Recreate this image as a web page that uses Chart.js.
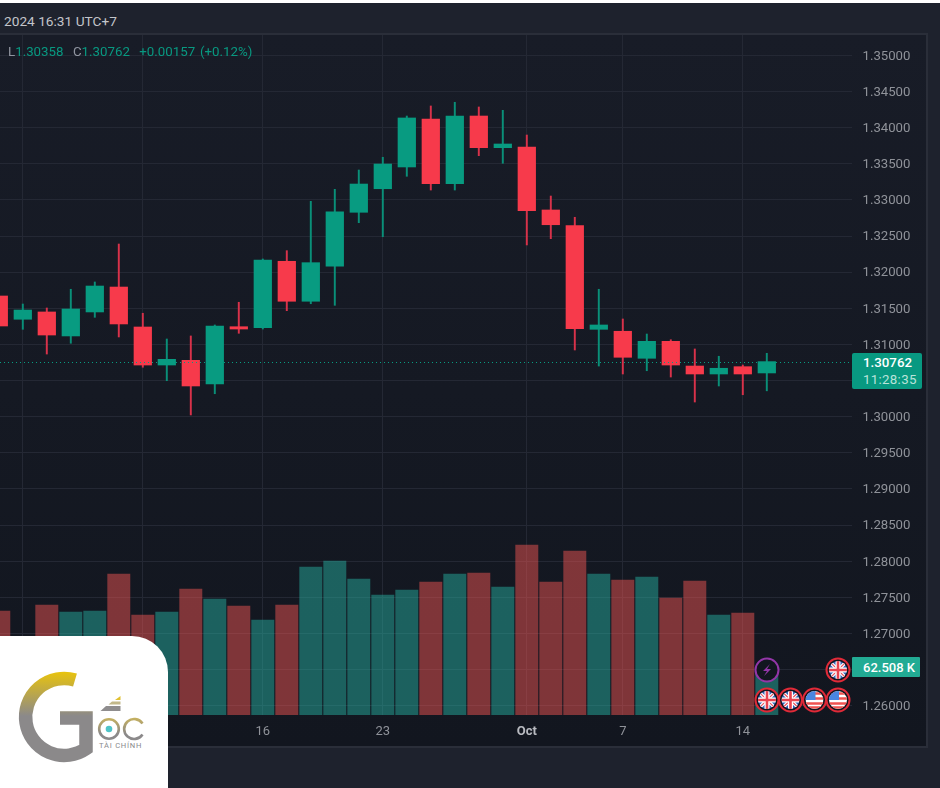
<!DOCTYPE html>
<html>
<head>
<meta charset="utf-8">
<script src="https://cdn.jsdelivr.net/npm/chart.js@4/dist/chart.umd.min.js"></script>
<style>
html,body{margin:0;padding:0;width:940px;height:788px;overflow:hidden;background:#1e222d;font-family:Roboto,sans-serif}
#white{position:absolute;left:0;top:0;width:940px;height:3px;background:#fff}
#panel{position:absolute;left:-2px;top:33px;width:926px;height:711px;border:2px solid #2a2e39;background:linear-gradient(#181c27,#12161f)}
#c{position:absolute;left:0;top:35px}
.t{position:absolute;white-space:pre;line-height:16px}
#hdr{left:4px;top:13px;font-size:13.7px;font-weight:400;color:#c3c5ca}
#leg{left:8px;top:44px;font-size:13.3px;color:#089981;word-spacing:1.4px}
#leg b{font-weight:400;color:#9095a0}
.tag{position:absolute;color:#fff;font-size:13.3px;font-weight:500}
#ptag{left:852px;top:353px;width:70px;height:36px;background:#089981;border-radius:2px;line-height:17px;padding:1px 0 0 11px;box-sizing:border-box}
#ptag span{display:block;color:#b9e3da;font-weight:400;letter-spacing:.3px}
#vtag{left:852px;top:657px;width:68px;height:20px;line-height:21px;background:#22ab94;border-radius:1px;padding-left:11px;box-sizing:border-box;font-size:13px;white-space:pre}
#icons{position:absolute;left:0;top:0}
#logo{position:absolute;left:0;top:636px;width:168px;height:152px;background:#fff;border-top-right-radius:36px}
#logosvg{position:absolute;left:0;top:0}
#tc{position:absolute;left:99px;top:105px;font-size:7.6px;line-height:10px;letter-spacing:.75px;color:#8a8a8c;white-space:pre}
</style>
</head>
<body>
<div id="white"></div>
<div id="panel"></div>
<canvas id="c" width="926" height="711"></canvas>
<div class="t" id="hdr">2024 16:31 UTC+7</div>
<div class="t" id="leg"><b>L</b>1.30358  <b>C</b>1.30762  +0.00157 (+0.12%)</div>
<div class="tag" id="ptag">1.30762<span>11:28:35</span></div>
<div class="tag" id="vtag">62.508 K</div>
<svg id="icons" width="940" height="788">
<defs>
<clipPath id="cc"><circle cx="0" cy="0" r="9"/></clipPath>
<g id="uk"><circle r="11.5" fill="#12161f" stroke="#e02a38" stroke-width="2"/>
<g clip-path="url(#cc)"><rect x="-9" y="-9" width="18" height="18" fill="#2f63b8"/>
<path d="M-9-9L9 9M9-9L-9 9" stroke="#fff" stroke-width="3.4"/><path d="M-9-9L9 9M9-9L-9 9" stroke="#e8535f" stroke-width="1.2"/>
<path d="M0-9V9M-9 0H9" stroke="#fff" stroke-width="5"/><path d="M0-9V9M-9 0H9" stroke="#e8434f" stroke-width="2.6"/></g></g>
<g id="us"><circle r="11.5" fill="#12161f" stroke="#e02a38" stroke-width="2"/>
<g clip-path="url(#cc)"><rect x="-9" y="-9" width="18" height="18" fill="#fff"/>
<path d="M-9-6.5H9M-9-1.5H9M-9 3.5H9M-9 7.5H9" stroke="#ef5350" stroke-width="2.4"/>
<rect x="-9" y="-9" width="10" height="9" fill="#4a86e0"/></g></g>
</defs>
<circle cx="767" cy="670" r="11.5" fill="#12161f" stroke="#9336a8" stroke-width="2"/>
<path d="M770 664L763 671H767L764 676L771 669H767Z" fill="#9336a8"/>
<use href="#uk" x="838" y="670"/>
<use href="#uk" x="767" y="700"/>
<use href="#uk" x="790.500" y="700"/>
<use href="#us" x="814.500" y="700"/>
<use href="#us" x="838" y="700"/>
</svg>
<div id="logo">
<svg id="logosvg" width="168" height="152" viewBox="0 636 168 152">
<defs>
<linearGradient id="gg" gradientUnits="userSpaceOnUse" x1="0" y1="672" x2="0" y2="716">
<stop offset="0" stop-color="#e8c30e"/><stop offset="1" stop-color="#8b898a"/></linearGradient>
<linearGradient id="og" gradientUnits="userSpaceOnUse" x1="0" y1="716" x2="0" y2="734">
<stop offset="0" stop-color="#cdb65a"/><stop offset="1" stop-color="#8b898a"/></linearGradient>
</defs>
<path d="M75 680A38.500 38.500 0 1 0 86 748.600L86 718L60 718" fill="none" stroke="url(#gg)" stroke-width="13.500"/>
<circle cx="109" cy="729" r="9.800" fill="none" stroke="url(#og)" stroke-width="2.600"/>
<circle cx="109" cy="729" r="3.300" fill="#4fc4c8"/>
<path d="M142.500 723.500A10 10 0 1 0 142.500 734.500" fill="none" stroke="url(#og)" stroke-width="2.600"/>
<path d="M120.500 696L115 700H120.500Z" fill="#e0c030"/>
<path d="M120.500 701.500H112L108.500 704.500H120.500Z" fill="#c2b88a"/>
<path d="M120.500 706H106L100.500 711H120.500Z" fill="#8f8d8e"/>
</svg>
<div id="tc">TÀI CHÍNH</div>
</div>
<script>
// Daily sessions, 30 Aug 2024 to 15 Oct 2024
const dayLabels = ["Aug 30","2","3","4","5","6","9","10","11","12","13","16","17","18","19","20","23","24","25","26","27","30","Oct","2","3","4","7","8","9","10","11","14","15"];
const tickPositions = [1,6,11,16,22,26,31];
const opens  = [1.31670,1.31348,1.31449,1.31117,1.31449,1.31794,1.31241,1.30715,1.30780,1.30452,1.31245,1.31231,1.32150,1.31597,1.32081,1.32828,1.33154,1.33455,1.34119,1.33224,1.34160,1.33722,1.33731,1.32860,1.32643,1.31209,1.31182,1.30808,1.31043,1.30701,1.30591,1.30692,1.30605];
const closes = [1.31255,1.31476,1.31130,1.31490,1.31808,1.31283,1.30715,1.30794,1.30425,1.31255,1.31213,1.32168,1.31597,1.32131,1.32836,1.33219,1.33496,1.34133,1.33224,1.34160,1.33722,1.33773,1.32850,1.32656,1.31218,1.31269,1.30822,1.31043,1.30715,1.30591,1.30670,1.30591,1.30762];
const highs  = [1.31710,1.31559,1.31504,1.31763,1.31864,1.32389,1.31431,1.31075,1.31117,1.31269,1.31583,1.32182,1.32297,1.32980,1.33146,1.33413,1.33589,1.34160,1.34299,1.34350,1.34285,1.34239,1.33897,1.33053,1.32759,1.31763,1.31352,1.31144,1.31065,1.30937,1.30836,1.30715,1.30877];
const lows   = [1.31213,1.31209,1.30867,1.31016,1.31375,1.31103,1.30684,1.30498,1.30024,1.30318,1.31154,1.31213,1.31467,1.31563,1.31541,1.32684,1.32490,1.33326,1.33136,1.33136,1.33611,1.33506,1.32376,1.32463,1.30923,1.30701,1.30591,1.30636,1.30549,1.30203,1.30425,1.30304,1.30358];
const volumes = [135.4,85,143.2,134.1,135.4,183.6,130.2,134.1,164,151,141.9,123.7,143.2,192.7,200.5,177,156.2,162.8,173.2,183.6,184.9,166.7,221.3,173.2,213.5,183.6,175.8,179.7,152.3,174.5,130.2,132.8,62.508];
const lastPrice = 1.30762;

const UP = '#089b81', DOWN = '#f73a4b';
const up = i => closes[i] >= opens[i];
const GRID = '#242834', TXT = '#8f9299';
const isOct = c => c.tick && dayLabels[c.tick.value]==='Oct';

const priceLine = {
  id:'priceLine',
  afterDatasetsDraw(ch){
    const {ctx,chartArea:a,scales:{y}} = ch, py = Math.round(y.getPixelForValue(lastPrice))+0.5;
    ctx.save(); ctx.strokeStyle = '#089b81'; ctx.lineWidth = 1; ctx.setLineDash([1,3]);
    ctx.beginPath(); ctx.moveTo(a.left,py); ctx.lineTo(a.right,py); ctx.stroke(); ctx.restore();
  }
};
const noPad = s => { s.paddingTop = s.paddingBottom = s.paddingLeft = s.paddingRight = 0; };

new Chart(document.getElementById('c'),{
  type:'bar',
  plugins:[priceLine],
  data:{datasets:[
    {label:'Body',order:1,yAxisID:'y',grouped:false,barThickness:17.6,
     data:opens.map((o,i)=>({x:i,y:[o,closes[i]]})),
     backgroundColor:opens.map((o,i)=>up(i)?UP:DOWN)},
    {label:'Wick',order:2,yAxisID:'y',grouped:false,barThickness:1.3,
     data:highs.map((h,i)=>({x:i,y:[lows[i],h]})),
     backgroundColor:opens.map((o,i)=>up(i)?'#0a8f78':'#d8324a')},
    {label:'Volume',order:3,yAxisID:'v',grouped:false,barThickness:22.3,
     data:volumes.map((v,i)=>({x:i,y:v})),
     backgroundColor:opens.map((o,i)=>up(i)?'rgba(37,171,157,.5)':'rgba(235,83,81,.5)')}
  ]},
  options:{
    responsive:false,animation:false,devicePixelRatio:1,
    layout:{padding:0},
    plugins:{legend:{display:false},tooltip:{enabled:false}},
    scales:{
      x:{type:'linear',position:'bottom',offset:false,min:0.05,max:35.55,
        grid:{color:GRID,offset:false,drawTicks:false},border:{display:false},
        afterBuildTicks:s=>{s.ticks = tickPositions.map(i=>({value:i}));},
        afterFit:s=>{s.height = 31; noPad(s);},
        ticks:{autoSkip:false,maxRotation:0,padding:9,
          callback:v=>dayLabels[v],
          color:c=>isOct(c)?'#b8bac0':TXT,
          font:c=>({family:'Roboto',size:13,weight:isOct(c)?'700':'400'})}},
      y:{type:'linear',position:'right',min:1.258729,max:1.352809,
        grid:{color:GRID,drawTicks:false},border:{display:false},
        afterFit:s=>{s.width = 74; noPad(s);},
        ticks:{stepSize:0.005,includeBounds:false,padding:10.500,labelOffset:1,color:TXT,
          font:{family:'Roboto',size:13.2},callback:v=>v.toFixed(5)}},
      v:{type:'linear',display:false,position:'right',min:0,max:885.4,grid:{display:false}}
    }
  }
});
</script>
</body>
</html>
